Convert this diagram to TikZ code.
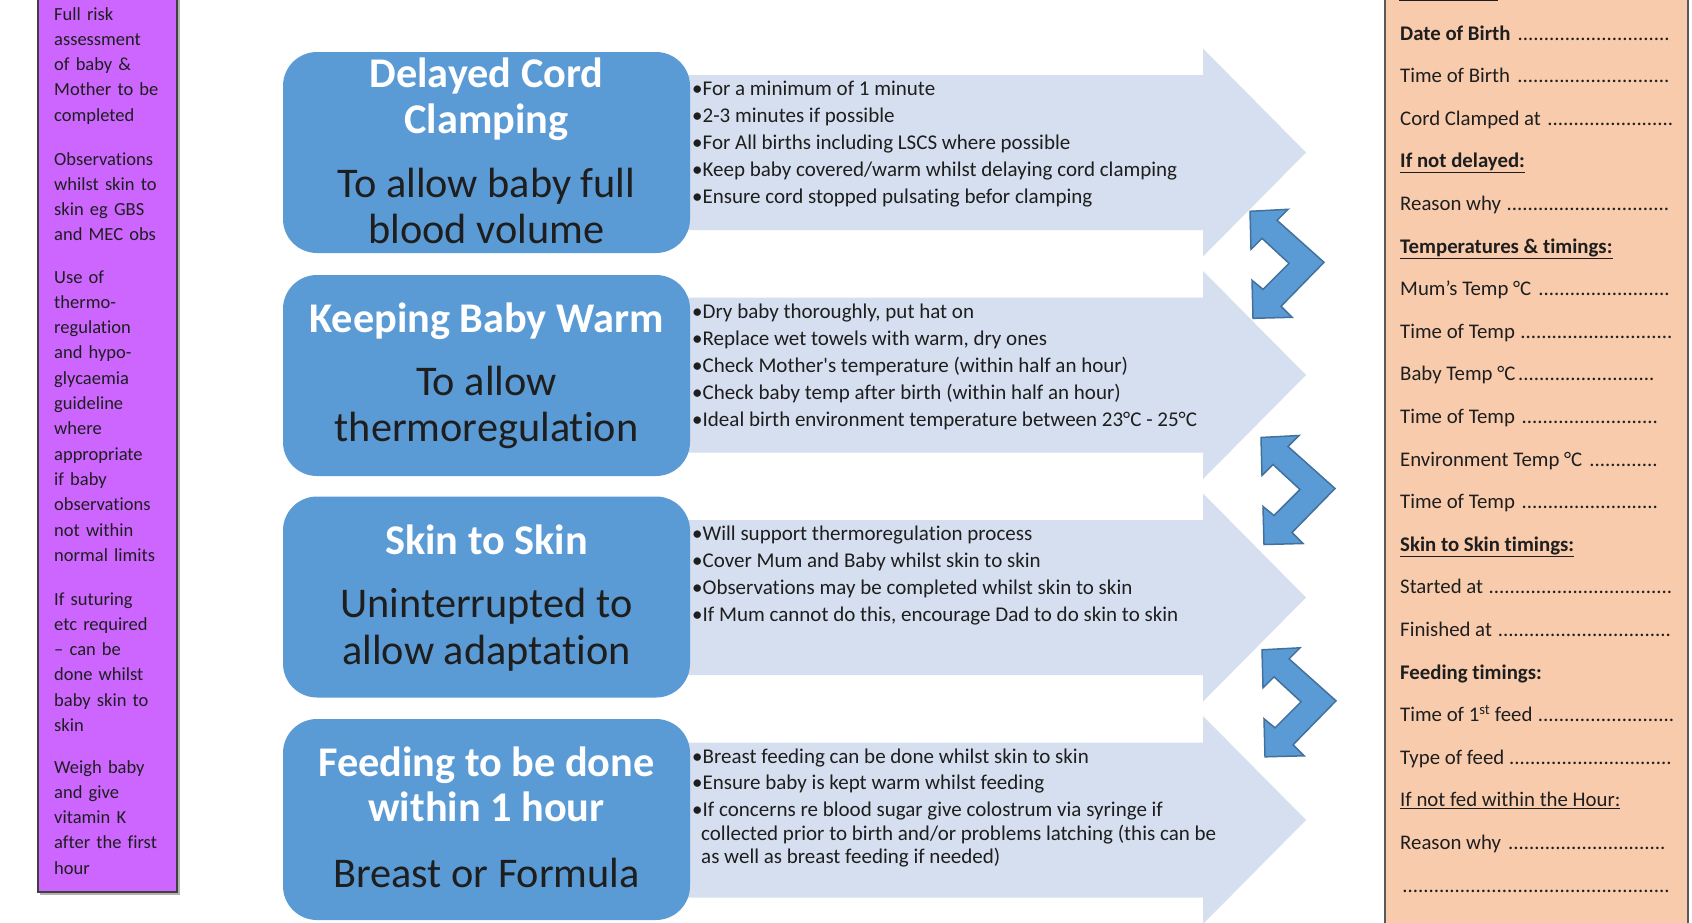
\documentclass[tikz,border=0pt]{standalone}
\usepackage{fontspec}
\setmainfont{Carlito}[Ligatures={TeX,NoCommon}]
\definecolor{boxblue}{HTML}{5B9BD5}
\definecolor{boxedge}{HTML}{41719C}
\definecolor{arrowfill}{HTML}{D5DFEF}
\definecolor{violetfill}{HTML}{CC66FF}
\definecolor{peach}{HTML}{F8CBAD}
\definecolor{ink}{HTML}{1E1E1E}
\definecolor{paneledge}{HTML}{595959}
\newcommand\dotrow[2]{\makebox[#1][l]{#2\cleaders\hbox{.}\hfill}}
\tikzset{
  bluebox/.style={rectangle, rounded corners=34pt, fill=boxblue, draw=none, minimum width=407pt, minimum height=201pt, inner sep=0pt},
  boxtitle/.style={anchor=base, inner sep=0pt, text=white, font=\fontsize{42.3}{46}\selectfont\bfseries},
  boxsub/.style={anchor=base, inner sep=0pt, text=ink, font=\fontsize{42.3}{46}\selectfont},
  bul/.style={anchor=base west, inner sep=0pt, text=ink, font=\fontsize{21}{24}\selectfont},
  sidepara/.style={anchor=base west, inner sep=0pt, text=ink, text width=130pt, align=left, font=\fontsize{18.5}{25.3}\selectfont},
  formrow/.style={anchor=base west, inner sep=0pt, text=ink, font=\fontsize{20.8}{24}\selectfont},
  lightarrow/.style={fill=arrowfill, draw=none},
  chevstyle/.style={fill=boxblue, draw=boxedge, line width=1.5pt, line join=miter},
  chev/.pic={\path[chevstyle] (-74,-51) -- (-36,-53) -- (-47,-42) -- (0,0) -- (-43,44) -- (-32,55) -- (-71,56) -- (-72,18) -- (-61,27) -- (-35,1) -- (-62,-24) -- (-73,-13) -- cycle;}
}
\begin{document}
\begin{tikzpicture}[x=1pt,y=-1pt]
\useasboundingbox (0,0) rectangle (1692,922);
\fill[white] (0,0) rectangle (1692,922);

% ---------- left purple panel ----------
\fill[gray!60] (40,-5) rectangle (180,895);
\path[fill=violetfill, draw=black!75, line width=1.2pt] (38,-5) rectangle (177,892);
\node[sidepara] (s1) at (54,20) {Full risk\\assessment\\of baby \&\\Mother to be\\completed};
\node[sidepara] (s2) at (54,165) {Observations\\whilst skin to\\skin eg GBS\\and MEC obs};
\node[sidepara] (s3) at (54,283) {Use of\\thermo-\\regulation\\and hypo-\\glycaemia\\guideline\\where\\appropriate\\if baby\\observations\\not within\\normal limits};
\node[sidepara] (s4) at (54,605) {If suturing\\etc required\\– can be\\done whilst\\baby skin to\\skin};
\node[sidepara] (s5) at (54,773) {Weigh baby\\and give\\vitamin K\\after the first\\hour};

% ---------- light arrows ----------
\foreach \c in {152.5,375,597.5,820}{
  \path[lightarrow] (640,\c-77.5) -- (1203,\c-77.5) -- (1203,\c-104) -- (1306,\c) -- (1203,\c+104) -- (1203,\c+77.5) -- (640,\c+77.5) -- cycle;
}

% ---------- blue boxes ----------
\node[bluebox] (b1) at (486.5,152.5) {};
\node[bluebox] (b2) at (486.5,375.5) {};
\node[bluebox] (b3) at (486.5,597) {};
\node[bluebox] (b4) at (486.5,819.5) {};

\node[boxtitle] (b1a) at (486.5,87) {Delayed Cord};
\node[boxtitle] (b1b) at (486.5,133) {Clamping};
\node[boxsub] (b1c) at (486.5,197) {To allow baby full};
\node[boxsub] (b1d) at (486.5,243) {blood volume};

\node[boxtitle] (b2a) at (486.5,332.5) {Keeping Baby Warm};
\node[boxsub] (b2b) at (486.5,395.5) {To allow};
\node[boxsub] (b2c) at (486.5,441.5) {thermoregulation};

\node[boxtitle] (b3a) at (486.5,554.5) {Skin to Skin};
\node[boxsub] (b3b) at (486.5,617.5) {Uninterrupted to};
\node[boxsub] (b3c) at (486.5,664.5) {allow adaptation};

\node[boxtitle] (b4a) at (486.5,776.5) {Feeding to be done};
\node[boxtitle] (b4b) at (486.5,821.5) {within 1 hour};
\node[boxsub] (b4c) at (486.5,887.5) {Breast or Formula};

% ---------- bullet texts ----------
\node[bul] (t11) at (692,95) {•For a minimum of 1 minute};
\node[bul] (t12) at (692,122) {•2-3 minutes if possible};
\node[bul] (t13) at (692,149) {•For All births including LSCS where possible};
\node[bul] (t14) at (692,176) {•Keep baby covered/warm whilst delaying cord clamping};
\node[bul] (t15) at (692,203) {•Ensure cord stopped pulsating befor clamping};

\node[bul] (t21) at (692,318) {•Dry baby thoroughly, put hat on};
\node[bul] (t22) at (692,345) {•Replace wet towels with warm, dry ones};
\node[bul] (t23) at (692,372) {•Check Mother\textquotesingle s temperature (within half an hour)};
\node[bul] (t24) at (692,399) {•Check baby temp after birth (within half an hour)};
\node[bul] (t25) at (692,426) {•Ideal birth environment temperature between 23°C - 25°C};

\node[bul] (t31) at (692,540) {•Will support thermoregulation process};
\node[bul] (t32) at (692,567) {•Cover Mum and Baby whilst skin to skin};
\node[bul] (t33) at (692,594) {•Observations may be completed whilst skin to skin};
\node[bul] (t34) at (692,621) {•If Mum cannot do this, encourage Dad to do skin to skin};

\node[bul] (t41) at (692,763) {•Breast feeding can be done whilst skin to skin};
\node[bul] (t42) at (692,789.5) {•Ensure baby is kept warm whilst feeding};
\node[bul] (t43) at (692,816) {•If concerns re blood sugar give colostrum via syringe if};
\node[bul] (t44) at (701,840) {collected prior to birth and/or problems latching (this can be};
\node[bul] (t45) at (701,863.5) {as well as breast feeding if needed)};

% ---------- chevron arrows ----------
\pic at (1324,262.3) {chev};
\pic at (1335,488.5) {chev};
\pic at (1336,700.8) {chev};

% ---------- right peach panel ----------
\path[fill=peach, draw=paneledge, line width=1.5pt] (1385,-5) rectangle (1688,930);
\draw[ink, line width=1.4pt] (1399,0.6) -- (1498,0.6);
\node[formrow] (r0) at (1400,40) {\dotrow{272pt}{\textbf{Date of Birth} }};
\node[formrow] (r1) at (1400,82.6) {\dotrow{272pt}{Time of Birth }};
\node[formrow] (r2) at (1400,125.2) {\dotrow{275pt}{Cord Clamped at }};
\node[formrow] (r3) at (1400,167.8) {\textbf{\underline{If not delayed:}}};
\node[formrow] (r4) at (1400,210.4) {\dotrow{270pt}{Reason why }};
\node[formrow] (r5) at (1400,253) {\textbf{\underline{Temperatures \& timings:}}};
\node[formrow] (r6) at (1400,295.6) {\dotrow{272pt}{Mum’s Temp °C }};
\node[formrow] (r7) at (1400,338.2) {\dotrow{273pt}{Time of Temp }};
\node[formrow] (r8) at (1400,380.8) {\dotrow{257pt}{Baby Temp °C}};
\node[formrow] (r9) at (1400,423.4) {\dotrow{260pt}{Time of Temp }};
\node[formrow] (r10) at (1400,466) {\dotrow{260pt}{Environment Temp °C }};
\node[formrow] (r11) at (1400,508.6) {\dotrow{260pt}{Time of Temp }};
\node[formrow] (r12) at (1400,551.2) {\textbf{\underline{Skin to Skin timings:}}};
\node[formrow] (r13) at (1400,593.8) {\dotrow{273pt}{Started at }};
\node[formrow] (r14) at (1400,636.4) {\dotrow{272pt}{Finished at }};
\node[formrow] (r15) at (1400,679) {\textbf{Feeding timings:}};
\node[formrow] (r16) at (1400,721.6) {\dotrow{275pt}{Time of 1\textsuperscript{st} feed }};
\node[formrow] (r17) at (1400,764.2) {\dotrow{272pt}{Type of feed }};
\node[formrow] (r18) at (1400,806.8) {\underline{If not fed within the Hour:}};
\node[formrow] (r19) at (1400,849.4) {\dotrow{268pt}{Reason why }};
\node[formrow] (r20) at (1400,892) {\dotrow{272pt}{}};
\end{tikzpicture}
\end{document}
